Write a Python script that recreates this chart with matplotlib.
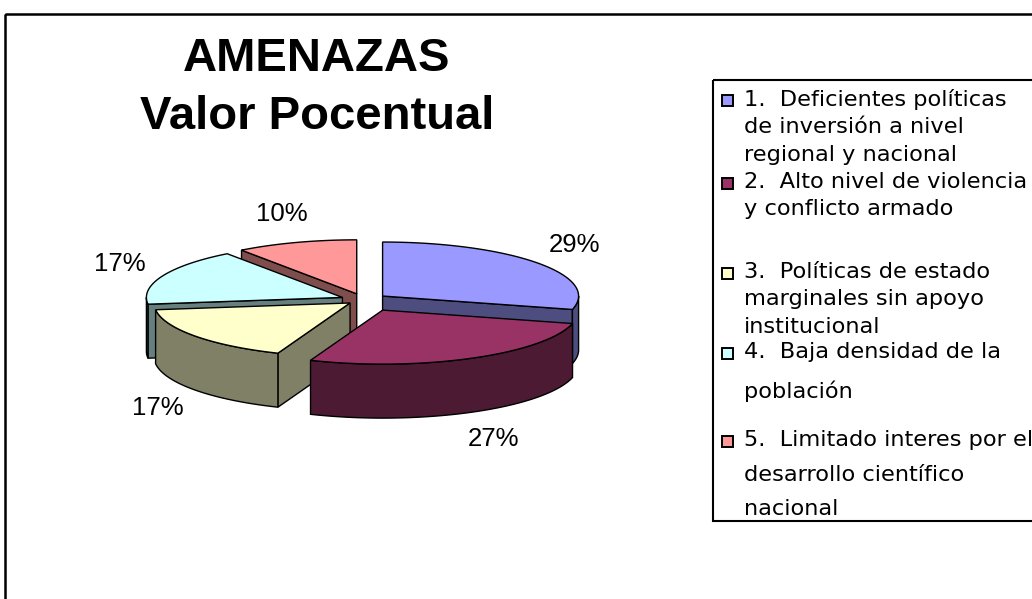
import numpy as np
import matplotlib.pyplot as plt
from matplotlib.patches import Polygon, Rectangle

# data
labels = [
    "1.  Deficientes políticas\nde inversión a nivel\nregional y nacional",
    "2.  Alto nivel de violencia\ny conflicto armado",
    "3.  Políticas de estado\nmarginales sin apoyo\ninstitucional",
    "4.  Baja densidad de la\npoblación",
    "5.  Limitado interes por el\ndesarrollo científico\nnacional",
]
values = [29, 27, 17, 17, 10]
pct_text = ["29%", "27%", "17%", "17%", "10%"]
colors = ["#9999FF", "#993366", "#FFFFCC", "#CCFFFF", "#FF9999"]
explode = [0.12, 0.21, 0.09, 0.12, 0.12]

title = "AMENAZAS\nValor Pocentual"

# pie geometry in pixel units
W, H = 1032, 599
cx, cy = 364, 300
rx, ry = 196, 54
depth = 54


def darker(c, f=0.5):
    r, g, b = [int(c[i:i + 2], 16) / 255 for i in (1, 3, 5)]
    return (r * f, g * f, b * f)


def pt(vx, vy, th, dy=0):
    t = np.radians(th)
    return (vx + rx * np.sin(t), vy - ry * np.cos(t) + dy)


fig = plt.figure(figsize=(W / 100, H / 100), dpi=100)
ax = fig.add_axes([0, 0, 1, 1])
ax.set_xlim(0, W)
ax.set_ylim(H, 0)
ax.axis("off")

# outer chart border and legend box
ax.add_patch(Rectangle((4.5, 14), 1040, 600, fill=False, lw=1.8, ec="black"))
legend_box = Rectangle((713, 80), 330, 441, fill=False, lw=1.5, ec="black")
ax.add_patch(legend_box)

ax.text(317, 88, title, ha="center", va="center", fontsize=34, fontweight="bold",
        family="Liberation Sans", linespacing=1.4)

total = sum(values)
starts = np.cumsum([0] + values[:-1]) / total * 360
ends = np.cumsum(values) / total * 360
mids = (starts + ends) / 2

order = np.argsort(-np.cos(np.radians(mids)))
for i in order:
    s, e, m = starts[i], ends[i], mids[i]
    vx = cx + explode[i] * rx * np.sin(np.radians(m))
    vy = cy - explode[i] * ry * np.cos(np.radians(m))
    side = darker(colors[i])
    # radial walls facing the viewer
    if np.sin(np.radians(s)) < -1e-6:
        p = pt(vx, vy, s)
        ax.add_patch(Polygon([(vx, vy), p, (p[0], p[1] + depth), (vx, vy + depth)],
                             fc=side, ec="black", lw=1))
    if np.sin(np.radians(e)) > 1e-6:
        p = pt(vx, vy, e)
        ax.add_patch(Polygon([(vx, vy), p, (p[0], p[1] + depth), (vx, vy + depth)],
                             fc=side, ec="black", lw=1))
    # outer curved wall (front half only)
    a0, a1 = max(s, 90), min(e, 270)
    if a1 > a0:
        th = np.linspace(a0, a1, 80)
        top = [pt(vx, vy, t) for t in th]
        bot = [pt(vx, vy, t, depth) for t in th[::-1]]
        ax.add_patch(Polygon(top + bot, fc=side, ec="black", lw=1))
    # top face
    th = np.linspace(s, e, 120)
    ax.add_patch(Polygon([(vx, vy)] + [pt(vx, vy, t) for t in th],
                         fc=colors[i], ec="black", lw=1))
    # percentage label
    c = np.cos(np.radians(m))
    lx = vx + 1.24 * rx * np.sin(np.radians(m))
    ly = vy - 1.55 * ry * c + (depth if c < 0 else 0)
    ax.text(lx, ly, pct_text[i], ha="center", va="center", fontsize=18.5,
            family="Liberation Sans")

# legend drawn by hand
entry_y = [101, 184, 274, 354, 442]
spacing = [1.46, 1.46, 1.46, 2.03, 1.92]
for i, lab in enumerate(labels):
    ax.add_patch(Rectangle((722, entry_y[i] - 6), 11, 11, fc=colors[i], ec="black", lw=1.4))
    t = ax.text(744, entry_y[i] - 12, lab, ha="left", va="top", fontsize=16.2,
                family="DejaVu Sans", linespacing=spacing[i])
    t.set_clip_path(legend_box)

fig.savefig("out.png", dpi=100)
